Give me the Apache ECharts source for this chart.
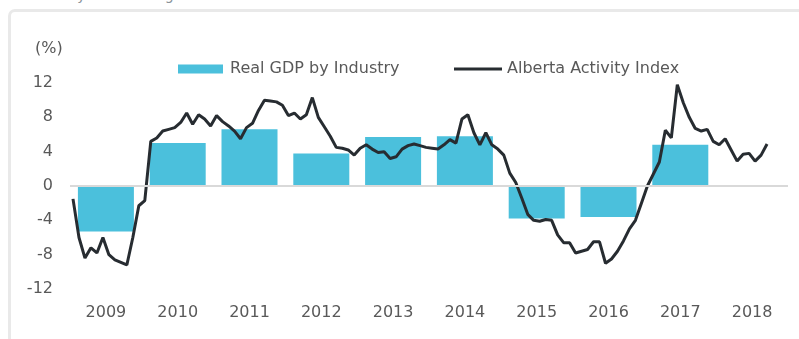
<!DOCTYPE html>
<html>
<head>
<meta charset="utf-8">
<script src="https://cdn.jsdelivr.net/npm/echarts@6/dist/echarts.min.js"></script>
<style>
  html, body { margin: 0; padding: 0; background: #ffffff; overflow: hidden; }
  #wrap { position: relative; width: 799px; height: 339px; }
  #caption { position: absolute; left: 8px; top: -13px; font: 14px "DejaVu Sans", sans-serif; color: #8a9299; white-space: nowrap; }
  #frame { position: absolute; left: 8px; top: 9px; width: 820px; height: 360px; border: 3px solid #e9e9e9; border-radius: 7px; box-sizing: border-box; }
  #chart { position: absolute; left: 0; top: 0; width: 799px; height: 339px; }
</style>
</head>
<body>
<div id="wrap">
  <div id="caption">Year-over-year % change</div>
  <div id="frame"></div>
  <div id="chart"></div>
</div>
<script>
// Annual real GDP growth by industry (%)
const years = ['2009', '2010', '2011', '2012', '2013', '2014', '2015', '2016', '2017', '2018'];
const gdpGrowth = [-5.3, 5.0, 6.6, 3.8, 5.7, 5.8, -3.8, -3.6, 4.8, null];

// Alberta Activity Index, monthly y/y change (%), Jan 2009 onward
const activity2009 = [-1.5, -6.0, -8.4, -7.2, -7.8, -6.0, -8.0, -8.6, -8.9, -9.2, -6.0, -2.3];
const activity2010 = [-1.7, 5.2, 5.6, 6.4, 6.6, 6.8, 7.4, 8.5, 7.2, 8.3, 7.8, 7.0];
const activity2011 = [8.2, 7.5, 7.0, 6.4, 5.5, 6.8, 7.3, 8.8, 10.0, 9.9, 9.8, 9.4];
const activity2012 = [8.2, 8.5, 7.8, 8.3, 10.3, 8.0, 6.9, 5.8, 4.5, 4.4, 4.2, 3.6];
const activity2013 = [4.4, 4.8, 4.3, 3.9, 4.0, 3.2, 3.4, 4.3, 4.7, 4.9, 4.7, 4.5];
const activity2014 = [4.4, 4.3, 4.8, 5.4, 5.0, 7.8, 8.3, 6.2, 4.8, 6.2, 4.8, 4.3];
const activity2015 = [3.6, 1.5, 0.4, -1.4, -3.3, -4.0, -4.1, -3.9, -4.0, -5.7, -6.6, -6.6];
const activity2016 = [-7.8, -7.6, -7.4, -6.5, -6.5, -9.0, -8.5, -7.6, -6.4, -5.0, -4.0, -2.0];
const activity2017 = [0.0, 1.4, 2.8, 6.5, 5.6, 11.8, 9.7, 8.0, 6.7, 6.4, 6.6, 5.2];
const activity2018 = [4.8, 5.5, 4.2, 2.9, 3.7, 3.8, 2.9, 3.6, 4.9];

const yTicks = { min: -12, max: 12, step: 4 };

const activity = [].concat(activity2009, activity2010, activity2011, activity2012, activity2013,
  activity2014, activity2015, activity2016, activity2017, activity2018);

// one slot per month across the full span of year categories
const months = [];
years.forEach(function (y) {
  for (let m = 1; m <= 12; m++) months.push(y + '-' + (m < 10 ? '0' + m : m));
});

const FONT = '"DejaVu Sans", sans-serif';
const TEXT = '#595959';
const LINE = '#272c31';

const chart = echarts.init(document.getElementById('chart'), null, { renderer: 'canvas' });
chart.setOption({
  animation: false,
  backgroundColor: 'transparent',
  grid: { left: 70, right: 11, top: 83, bottom: 50, containLabel: false },
  graphic: [{
    type: 'text', left: 35, top: 41,
    style: { text: '(%)', font: '16px ' + FONT, fill: TEXT }
  }],
  legend: [
    {
      data: [{ name: 'Real GDP by Industry', icon: 'rect' }],
      left: 173, top: 56, itemWidth: 45, itemHeight: 9, itemGap: 0,
      textStyle: { fontFamily: FONT, fontSize: 16, color: TEXT, padding: [0, 0, 0, 2] }
    },
    {
      data: [{ name: 'Alberta Activity Index', icon: 'rect', itemStyle: { color: LINE } }],
      left: 449, top: 56, itemWidth: 48, itemHeight: 3, itemGap: 0,
      textStyle: { fontFamily: FONT, fontSize: 16, color: TEXT }
    }
  ],
  xAxis: [
    {
      type: 'category', data: years, position: 'bottom',
      axisLine: { show: false }, axisTick: { show: false },
      axisLabel: { color: TEXT, fontFamily: FONT, fontSize: 16, margin: 16 }
    },
    {
      type: 'category', data: months, position: 'top', boundaryGap: true, show: false
    }
  ],
  yAxis: {
    type: 'value', min: yTicks.min, max: yTicks.max, interval: yTicks.step,
    axisLine: { show: false }, axisTick: { show: false }, splitLine: { show: false },
    axisLabel: { color: TEXT, fontFamily: FONT, fontSize: 16, margin: 17 }
  },
  series: [
    {
      // zero baseline, kept underneath the bars
      name: 'baseline', type: 'line', xAxisIndex: 0, data: [], z: 1,
      markLine: {
        silent: true, symbol: 'none', label: { show: false },
        lineStyle: { color: '#d9d9d9', width: 2, type: 'solid' },
        data: [{ yAxis: 0 }]
      }
    },
    {
      name: 'Real GDP by Industry', type: 'bar', xAxisIndex: 0, z: 2,
      data: gdpGrowth, barWidth: '78%',
      itemStyle: { color: '#4bc0dc' }
    },
    {
      name: 'Alberta Activity Index', type: 'line', xAxisIndex: 1, z: 3,
      data: activity, symbol: 'none', smooth: false,
      lineStyle: { color: LINE, width: 3 },
      itemStyle: { color: LINE }
    }
  ]
});
</script>
</body>
</html>
